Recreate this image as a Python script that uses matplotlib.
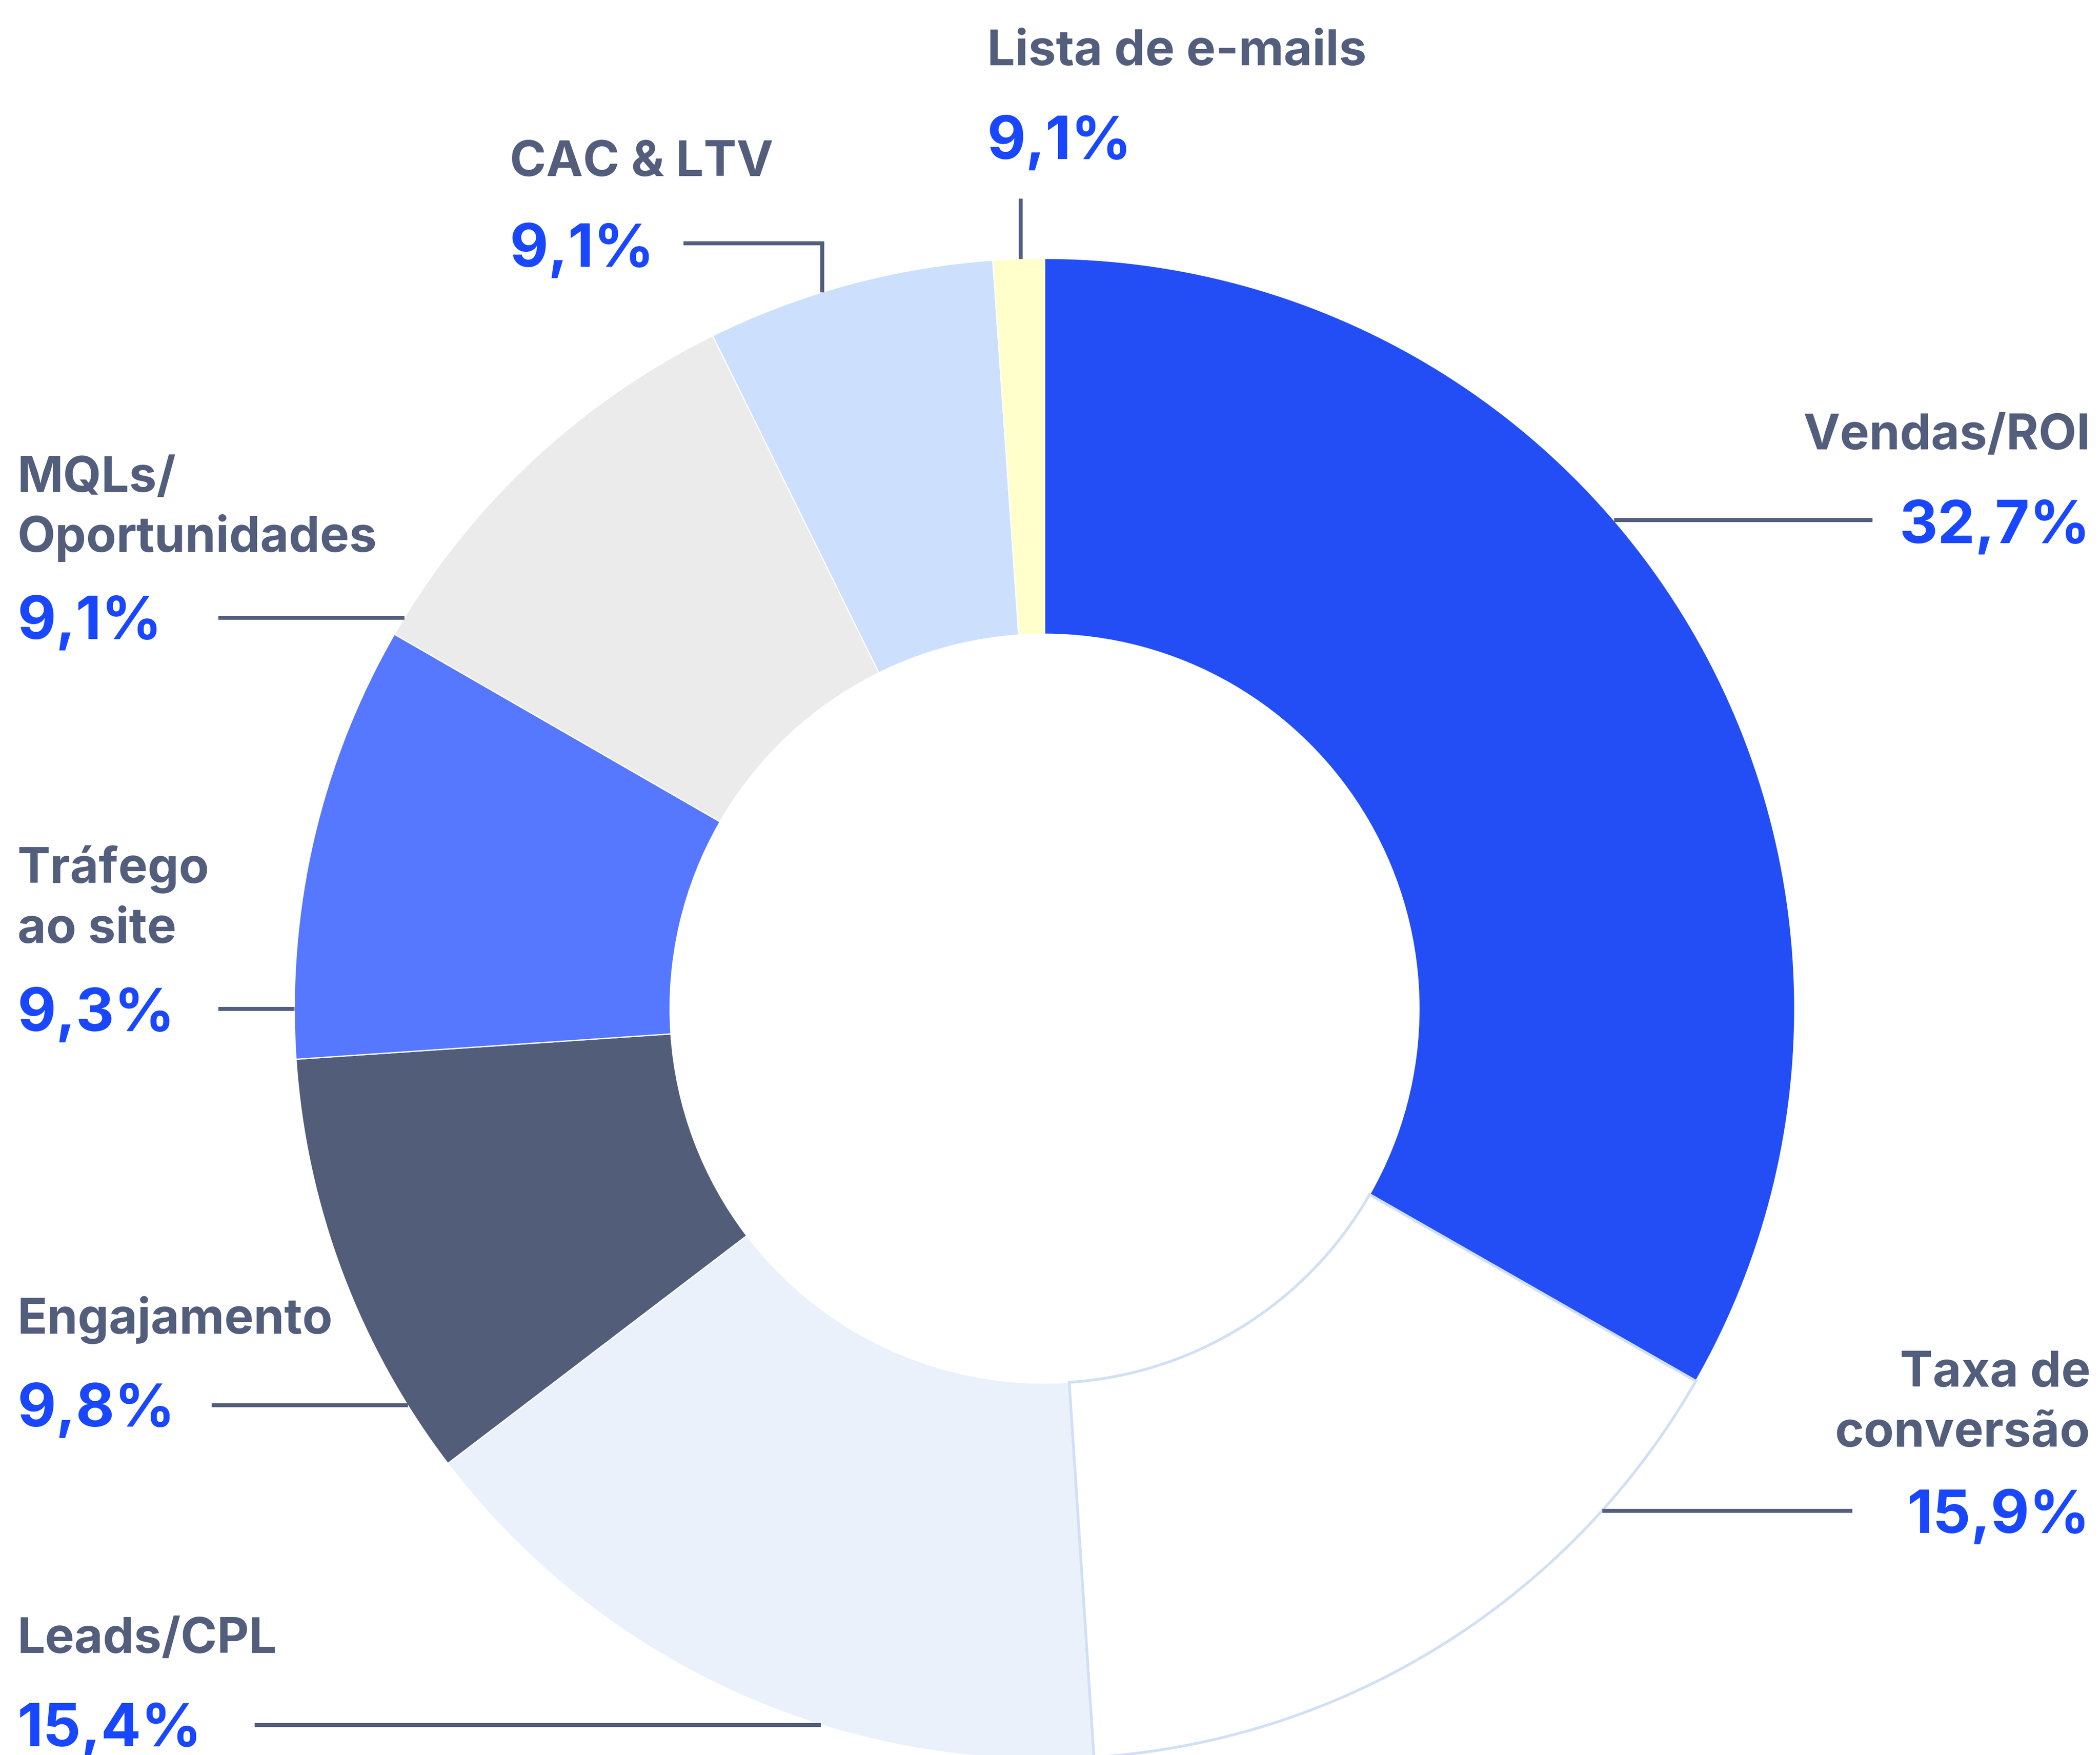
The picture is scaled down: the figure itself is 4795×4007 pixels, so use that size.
import numpy as np
import matplotlib.pyplot as plt

# dados
categorias = ['Vendas/ROI', 'Taxa de\nconversão', 'Leads/CPL', 'Engajamento',
              'Tráfego\nao site', 'MQLs/\nOportunidades', 'CAC & LTV', 'Lista de e-mails']
# fatias como desenhadas no gráfico (%)
fatias = [33.3, 15.7, 15.7, 9.3, 9.4, 9.4, 6.2, 1.1]
# rótulos de porcentagem como escritos
rotulos_pct = ['32,7%', '15,9%', '15,4%', '9,8%', '9,3%', '9,1%', '9,1%', '9,1%']

cores = ['#234EF5', '#FFFFFF', '#EAF1FA', '#525D7A',
         '#5677FF', '#EBEBEB', '#CCE0FD', '#FFFFCC']

COR_TXT = '#525E7C'
COR_PCT = '#1947FF'
FONTE = ['Inter', 'DejaVu Sans']

W, H = 4795, 4007
cx, cy = 2385, 2303          # centro (px, y para baixo)
R_ext, R_int = 1713, 855

def Y(y):  # y em pixels (para baixo) -> dados
    return H - y

fig = plt.figure(figsize=(W / 100, H / 100), dpi=100)
ax = fig.add_axes([0, 0, 1, 1])

fatias_w, _ = ax.pie(fatias, colors=cores, radius=R_ext, center=(cx, Y(cy)),
                     startangle=90, counterclock=False,
                     wedgeprops=dict(width=R_ext - R_int, edgecolor='white', linewidth=2))
# fatia branca com contorno azul claro
fatias_w[1].set_edgecolor('#D1E0F4')
fatias_w[1].set_linewidth(4.5)
fatias_w[1].set_zorder(1.5)

# posicao dos textos: x, alinhamento, baseline da 1a linha, baseline do %
layout = [
    (4773, 'right', 1026, 1240),
    (4773, 'right', 3166, 3500),
    (40, 'left', 3774, 3987),
    (40, 'left', 3045, 3257),
    (40, 'left', 2016, 2354),
    (40, 'left', 1123, 1459),
    (1164, 'left', 402, 609),
    (2254, 'left', 149, 363),
]
# linhas de chamada
chamadas = [
    ('h', 1187, 4275),
    ('h', 3449, 4229),
    ('h', 3938, 581),
    ('h', 3208, 483),
    ('h', 2303, 498),
    ('h', 1410, 498),
    ('vh', 1877, 555, 1560),
    ('v', 2330, 453),
]

for nome, pct, (x, ha, y0, yp) in zip(categorias, rotulos_pct, layout):
    for i, linha in enumerate(nome.split('\n')):
        ax.text(x, Y(y0 + i * 137), linha, ha=ha, va='baseline', fontsize=81,
                fontweight='bold', color=COR_TXT, family=FONTE)
    ax.text(x, Y(yp), pct, ha=ha, va='baseline', fontsize=98,
            fontweight='bold', color=COR_PCT, family=FONTE)

def borda_x(y, lado):
    return cx + lado * np.sqrt(R_ext ** 2 - (y - cy) ** 2)

def borda_y(x):
    return cy - np.sqrt(R_ext ** 2 - (x - cx) ** 2)

for c in chamadas:
    if c[0] == 'h':
        y, xf = c[1], c[2]
        lado = 1 if xf > cx else -1
        xs, ys = [borda_x(y, lado), xf], [y, y]
    elif c[0] == 'v':
        x, yf = c[1], c[2]
        xs, ys = [x, x], [borda_y(x), yf]
    else:
        x, yt, xf = c[1], c[2], c[3]
        xs, ys = [x, x, xf], [borda_y(x), yt, yt]
    ax.plot(xs, [Y(v) for v in ys], color=COR_TXT, lw=6.5,
            solid_capstyle='butt', solid_joinstyle='miter', zorder=2)

ax.set_xlim(0, W)
ax.set_ylim(0, H)
ax.axis('off')

fig.savefig('out.png', dpi=100, facecolor='white')
